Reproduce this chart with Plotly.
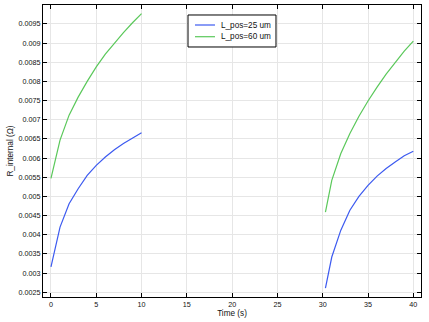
import plotly.graph_objects as go

# Time samples (s) for the two discharge segments
time_a = [0, 1, 2, 3, 4, 5, 6, 7, 8, 9, 10]
time_b = [30.3, 31, 32, 33, 34, 35, 36, 37, 38, 39, 40]

# Internal resistance (ohm) for each positive electrode thickness
r_25_a = [0.00316, 0.00420, 0.00481, 0.00520, 0.00555, 0.00581, 0.00603, 0.00622, 0.00638, 0.00652, 0.00666]
r_25_b = [0.00261, 0.00342, 0.00412, 0.00464, 0.00500, 0.00529, 0.00553, 0.00573, 0.00590, 0.00606, 0.00618]
r_60_a = [0.00547, 0.00647, 0.00712, 0.00759, 0.00800, 0.00838, 0.00871, 0.00900, 0.00927, 0.00953, 0.00977]
r_60_b = [0.00459, 0.00542, 0.00612, 0.00664, 0.00709, 0.00749, 0.00785, 0.00819, 0.00849, 0.00879, 0.00905]

series_names = ["L_pos=25 um", "L_pos=60 um"]

x_ticks = [0, 5, 10, 15, 20, 25, 30, 35, 40]
y_ticks = [0.0025, 0.003, 0.0035, 0.004, 0.0045, 0.005, 0.0055, 0.006,
           0.0065, 0.007, 0.0075, 0.008, 0.0085, 0.009, 0.0095]
y_tick_text = ["0.0025", "0.003", "0.0035", "0.004", "0.0045", "0.005", "0.0055", "0.006",
               "0.0065", "0.007", "0.0075", "0.008", "0.0085", "0.009", "0.0095"]

colors = ["rgb(60,90,240)", "rgb(90,200,90)"]
family = "Liberation Sans, Arial, sans-serif"
tick_font = dict(family=family, size=7.2, color="#111111")
label_font = dict(family=family, size=8.2, color="#111111")


def joined(t1, v1, t2, v2):
    # Break the line between the two segments
    return t1 + [None] + t2, v1 + [None] + v2


fig = go.Figure()
for name, color, (ta, va, tb, vb) in zip(
    series_names, colors,
    [(time_a, r_25_a, time_b, r_25_b), (time_a, r_60_a, time_b, r_60_b)],
):
    xs, ys = joined(ta, va, tb, vb)
    fig.add_trace(go.Scatter(
        x=xs, y=ys, mode="lines", name=name,
        line=dict(color=color, width=1.2), connectgaps=False,
    ))

axis_common = dict(
    showline=True, linecolor="black", linewidth=1, mirror="ticks",
    ticks="inside", ticklen=4, tickcolor="black", tickwidth=1,
    showgrid=True, gridcolor="#e6e6e6", gridwidth=1, zeroline=False,
    tickfont=tick_font,
)

# Compact boxed legend inside the plot area (paper coordinates of the plot domain)
box_x0, box_x1, box_y0, box_y1 = 0.3836, 0.6164, 0.8562, 0.9658
sample_x0, sample_x1, label_x = 0.4021, 0.4550, 0.4656
row_y = [0.9315, 0.8914]

shapes = [dict(type="rect", xref="paper", yref="paper",
               x0=box_x0, x1=box_x1, y0=box_y0, y1=box_y1,
               line=dict(color="black", width=1), fillcolor="white", layer="above")]
annotations = []
for name, color, ry in zip(series_names, colors, row_y):
    shapes.append(dict(type="line", xref="paper", yref="paper",
                       x0=sample_x0, x1=sample_x1, y0=ry, y1=ry,
                       line=dict(color=color, width=1.2), layer="above"))
    annotations.append(dict(xref="paper", yref="paper", x=label_x, y=ry,
                            text=name, showarrow=False, xanchor="left",
                            yanchor="middle", font=label_font))

fig.update_layout(
    width=429, height=322,
    margin=dict(l=43, r=8, t=5, b=25),
    paper_bgcolor="white", plot_bgcolor="white",
    font=tick_font,
    xaxis=dict(
        range=[-0.88, 40.85], tickvals=x_ticks,
        title=dict(text="Time (s)", font=label_font, standoff=1),
        **axis_common,
    ),
    yaxis=dict(
        range=[0.002377, 0.009993], tickvals=y_ticks, ticktext=y_tick_text,
        title=dict(text="R_internal (Ω)", font=label_font, standoff=3),
        **axis_common,
    ),
    shapes=shapes,
    annotations=annotations,
    showlegend=False,
)

fig.write_html("out.html")
